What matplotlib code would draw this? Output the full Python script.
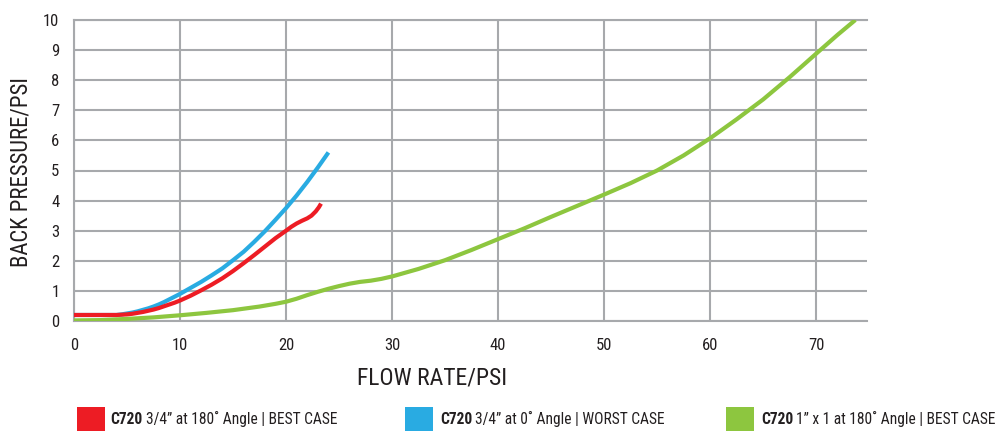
import matplotlib
matplotlib.use("Agg")
import matplotlib.pyplot as plt
from matplotlib.patches import Rectangle

FONT = ["Roboto Condensed", "Liberation Sans", "DejaVu Sans"]
plt.rcParams["font.family"] = FONT

# Flow rate (x) vs back pressure (y) for each valve setup
red_x = [0, 1, 2, 3, 4, 4.5, 5, 5.5, 6, 6.5, 7, 7.5, 8, 8.5, 9, 9.5, 10, 11, 12, 13, 14,
         15, 16, 17, 18, 19, 20, 20.5, 21, 21.5, 22, 22.4, 22.8, 23.1, 23.3]
red_y = [0.2, 0.2, 0.2, 0.2, 0.2, 0.21, 0.22, 0.24, 0.27, 0.3, 0.34, 0.38, 0.43, 0.49, 0.55,
         0.61, 0.68, 0.84, 1.02, 1.21, 1.42, 1.66, 1.92, 2.19, 2.47, 2.75, 3.0, 3.13, 3.24,
         3.33, 3.41, 3.5, 3.64, 3.78, 3.9]

blue_x = [0, 2, 4, 4.5, 5, 5.5, 6, 6.5, 7, 7.5, 8, 8.5, 9, 9.5, 10, 11, 12, 13, 14, 15, 16,
          17, 18, 19, 20, 21, 22, 23, 24]
blue_y = [0.2, 0.2, 0.2, 0.22, 0.25, 0.28, 0.32, 0.37, 0.42, 0.48, 0.55, 0.63, 0.72, 0.81,
          0.9, 1.1, 1.3, 1.52, 1.75, 2.02, 2.3, 2.63, 2.98, 3.36, 3.75, 4.17, 4.62, 5.1, 5.6]

green_x = [0, 2.5, 5, 7.5, 10, 12.5, 15, 17.5, 19, 20, 21, 22, 23, 24, 25, 26, 27, 28, 29,
           30, 32.5, 35, 37.5, 40, 42.5, 45, 47.5, 50, 52.5, 55, 57.5, 60, 62.5, 65, 67.5,
           70, 72, 73.7]
green_y = [0.02, 0.03, 0.07, 0.12, 0.19, 0.27, 0.36, 0.48, 0.57, 0.64, 0.74, 0.86, 0.97,
           1.07, 1.16, 1.24, 1.3, 1.34, 1.4, 1.48, 1.73, 2.02, 2.36, 2.72, 3.08, 3.46, 3.83,
           4.2, 4.58, 5.0, 5.5, 6.07, 6.7, 7.36, 8.1, 8.88, 9.5, 10.0]

x_ticks = [0, 10, 20, 30, 40, 50, 60, 70]
y_ticks = list(range(0, 11))

series_names = ["C720", "C720", "C720"]
series_details = ["3/4\u201d at 180\u02da Angle | BEST CASE",
                  "3/4\u201d at 0\u02da Angle | WORST CASE",
                  "1\u201d x 1 at 180\u02da Angle | BEST CASE"]

RED = "#ED1C24"
BLUE = "#29ABE2"
GREEN = "#8DC63F"
GRID = "#A7A9AC"
TEXT = "#231F20"

fig = plt.figure(figsize=(10.01, 4.33), dpi=100)
W, H = 1001, 433
ax = fig.add_axes([74 / W, 1 - 321 / H, (867 - 74) / W, (321 - 20) / H])

ax.plot(green_x, green_y, color=GREEN, lw=3.0, solid_capstyle="butt", solid_joinstyle="round", zorder=3)
ax.plot(blue_x, blue_y, color=BLUE, lw=3.0, solid_capstyle="butt", solid_joinstyle="round", zorder=4)
ax.plot(red_x, red_y, color=RED, lw=3.0, solid_capstyle="butt", solid_joinstyle="round", zorder=5)

ax.set_xlim(0, 74.8)
ax.set_ylim(0, 10)
ax.set_xticks(x_ticks)
ax.set_yticks(y_ticks)
ax.grid(True, color=GRID, lw=1.5, zorder=1)
ax.set_axisbelow(True)
ax.spines["right"].set_visible(False)
for side in ["left", "bottom", "top"]:
    ax.spines[side].set_color(GRID)
    ax.spines[side].set_linewidth(1.5)
ax.tick_params(axis="both", length=0, labelsize=12, colors=TEXT)
ax.tick_params(axis="x", pad=12)
ax.tick_params(axis="y", pad=10.5)

fig.text(357 / W, 1 - 378 / H, "FLOW RATE/PSI", fontsize=17, color=TEXT,
         ha="left", va="center")
fig.text(21 / W, 1 - 172.5 / H, "BACK PRESSURE/PSI", fontsize=16.4, color=TEXT,
         ha="center", va="center", rotation=90)

# Legend row along the bottom
legend_items = [(RED, 77, 110.5), (BLUE, 405, 440), (GREEN, 726, 761)]
renderer = fig.canvas.get_renderer()
for (col, sx, tx), name, detail in zip(legend_items, series_names, series_details):
    fig.patches.append(Rectangle((sx / W, 1 - 431 / H), 28 / W, 24 / H,
                                 transform=fig.transFigure, color=col, lw=0))
    t1 = fig.text(tx / W, 1 - 419 / H, name, fontsize=11.2, fontweight="bold",
                  color=TEXT, ha="left", va="center")
    bb = t1.get_window_extent(renderer)
    fig.text(bb.x1 / W + 3 / W, 1 - 419 / H, detail, fontsize=11.2,
             color=TEXT, ha="left", va="center")

fig.savefig("out.png", dpi=100)
